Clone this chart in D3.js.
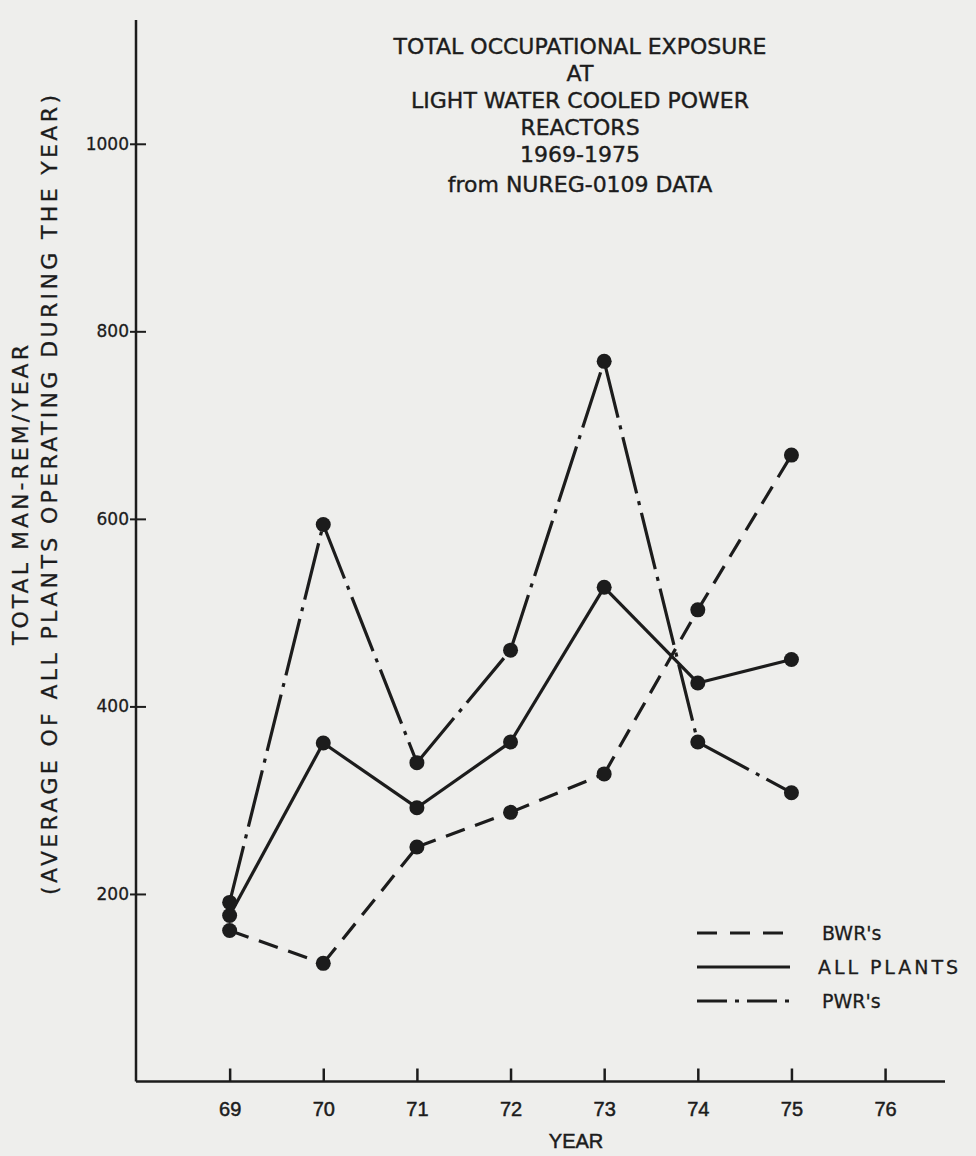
<!DOCTYPE html>
<html><head><meta charset="utf-8">
<script src="https://cdn.jsdelivr.net/npm/d3@7"></script>
<style>
html,body{margin:0;padding:0;background:#eeeeec;}
svg{display:block;}
</style></head>
<body>
<svg id="chart" width="976" height="1156"></svg>
<script>
const years = [69, 70, 71, 72, 73, 74, 75];
const bwr = [161, 126, 250, 287, 328, 503, 668];
const allPlants = [177, 361, 292, 362, 527, 425, 450];
const pwr = [191, 594, 340, 460, 768, 362, 308];
const xTicks = [69, 70, 71, 72, 73, 74, 75, 76];
const yTicks = [200, 400, 600, 800, 1000];
const titleLines = ["TOTAL OCCUPATIONAL EXPOSURE", "AT", "LIGHT WATER COOLED POWER", "REACTORS", "1969-1975", "from NUREG-0109 DATA"];
const yLabelLines = ["TOTAL MAN-REM/YEAR", "(AVERAGE OF ALL PLANTS OPERATING DURING THE YEAR)"];
const xLabel = "YEAR";
const legendNames = ["BWR's", "ALL PLANTS", "PWR's"];

const ink = "#1c1c1c";
const svg = d3.select("#chart");
const x = d3.scaleLinear().domain([68, 76.64]).range([136, 945]);
const y = d3.scaleLinear().domain([0, 1132]).range([1081.5, 20]);

const font = "'DejaVu Sans', 'Liberation Sans', sans-serif";
const narrow = "'Liberation Sans Narrow', 'Liberation Sans', sans-serif";
const thick = (sel, w) => sel.attr("stroke", ink).attr("stroke-width", w == null ? 0.3 : w).attr("fill", ink);

// Axes
const gx = svg.append("g").attr("transform", `translate(0,${y(0)})`)
  .call(d3.axisBottom(x).tickValues(xTicks).tickSizeInner(-13).tickSizeOuter(0).tickPadding(20).tickFormat(d3.format("d")));
gx.select(".domain").remove();
gx.selectAll("line").attr("stroke", ink).attr("stroke-width", 2.5);
gx.selectAll("text").attr("font-family", narrow).attr("font-size", 20).call(thick, 0.5);
svg.append("line").attr("x1", x.range()[0]).attr("x2", x.range()[1]).attr("y1", y(0)).attr("y2", y(0))
  .attr("stroke", ink).attr("stroke-width", 2.5);

const gy = svg.append("g").attr("transform", `translate(${x(68)},0)`)
  .call(d3.axisLeft(y).tickValues(yTicks).tickSizeInner(5).tickSizeOuter(0).tickPadding(2).tickFormat(d3.format("d")));
gy.select(".domain").remove();
gy.selectAll("line").attr("stroke", ink).attr("stroke-width", 2).attr("x2", 10).attr("x1", -6);
gy.selectAll("text").attr("font-family", font).attr("font-size", 17).call(thick);
svg.append("line").attr("x1", x(68)).attr("x2", x(68)).attr("y1", y.range()[1]).attr("y2", y(0))
  .attr("stroke", ink).attr("stroke-width", 2.5);

// Title
svg.append("g").selectAll("text").data(titleLines).join("text")
  .attr("x", 580).attr("y", (d, i) => 54 + i * 27 + (i === 5 ? 3 : 0))
  .attr("text-anchor", "middle").attr("font-family", font).attr("font-size", 22)
  .call(thick, 0.4).text(d => d);

// Y label
const yLabLen = [300, 800];
svg.append("g").selectAll("text").data(yLabelLines).join("text")
  .attr("transform", (d, i) => `translate(${28 + i * 29},495) rotate(-90)`)
  .attr("text-anchor", "middle").attr("font-family", font).attr("font-size", 22)
  .attr("textLength", (d, i) => yLabLen[i]).attr("lengthAdjust", "spacing")
  .call(thick).text(d => d);

// X label
svg.append("text").attr("x", x(72.7)).attr("y", 1148).attr("text-anchor", "middle")
  .attr("font-family", narrow).attr("font-size", 20).call(thick, 0.5).text(xLabel);

// Series
const series = [
  {name: legendNames[0], values: bwr, dash: "20,11"},
  {name: legendNames[1], values: allPlants, dash: null},
  {name: legendNames[2], values: pwr, dash: "58,8,4,8"}
];

series.forEach(s => {
  const pts = years.map((yr, i) => [x(yr), y(s.values[i])]);
  const g = svg.append("g");
  for (let i = 0; i < pts.length - 1; i++) {
    g.append("path").attr("d", d3.line()([pts[i], pts[i + 1]]))
      .attr("fill", "none").attr("stroke", ink).attr("stroke-width", 3.2)
      .attr("stroke-dasharray", s.dash);
  }
  g.selectAll("circle").data(pts).join("circle")
    .attr("cx", d => d[0]).attr("cy", d => d[1]).attr("r", 7.5).attr("fill", ink);
});

// Legend
const lg = svg.append("g");
series.forEach((s, i) => {
  const ly = 933 + i * 34;
  lg.append("line").attr("x1", 697).attr("x2", 790).attr("y1", ly).attr("y2", ly)
    .attr("stroke", ink).attr("stroke-width", 3.2)
    .attr("stroke-dasharray", s.dash ? (i === 0 ? "20,13" : "30,8,4,8") : null);
  const t = lg.append("text").attr("x", i === 1 ? 818 : 822).attr("y", ly + 7)
    .attr("font-family", font).attr("font-size", 19)
    .call(thick).text(s.name);
  if (i === 1) t.attr("textLength", 140).attr("lengthAdjust", "spacing");
});
</script>
</body></html>
